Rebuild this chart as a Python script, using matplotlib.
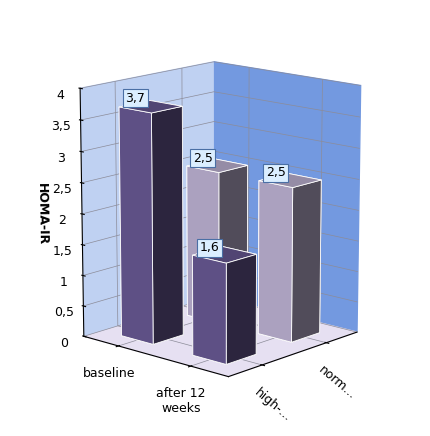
import numpy as np
import matplotlib
matplotlib.use("Agg")
from matplotlib import pyplot as plt
from matplotlib.ticker import FuncFormatter

# 数据
categories = ["baseline", "after 12\nweeks"]
series_names = ["high-...", "norm..."]
high_values = [3.7, 1.6]
normal_values = [2.5, 2.5]

fig = plt.figure(figsize=(4.3, 4.36), dpi=100)
ax = fig.add_axes([0.0, 0.0, 1.0, 1.0], projection="3d")

bar_w = 0.45
colors = ["#6a5a96", "#c2b6d8"]
for row, (vals, col) in enumerate(zip([high_values, normal_values], colors)):
    for i, v in enumerate(vals):
        ax.bar3d(i - bar_w / 2, row - bar_w / 2, 0, bar_w, bar_w, v,
                 color=col, edgecolor="#ffffff", linewidth=0.6, shade=True, zsort="max")
        ax.text(i, row - bar_w / 2, v + 0.18, f"{v:.1f}".replace(".", ","),
                ha="center", va="center", fontsize=9, zorder=100,
                bbox=dict(boxstyle="square,pad=0.2", fc="#dbeeff", ec="#4a6fa5", lw=0.8))

ax.set_xlim(-0.5, 1.5)
ax.set_ylim(-0.5, 1.5)
ax.set_zlim(0, 4)
ax.set_xticks([0, 1])
ax.set_xticklabels(categories, fontsize=9, ha="center")
ax.set_yticks([0, 1])
ax.set_yticklabels(series_names, fontsize=9, rotation=-40)
ax.set_zticks(np.arange(0, 4.01, 0.5))
ax.zaxis.set_major_formatter(FuncFormatter(lambda v, p: f"{v:g}".replace(".", ",")))
ax.tick_params(axis="z", labelsize=9)
ax.zaxis._axinfo["juggled"] = (1, 2, 0)
ax.set_zlabel("HOMA-IR", fontsize=9, fontweight="bold", labelpad=2)

ax.xaxis.set_pane_color((0.75, 0.82, 0.95, 1.0))
ax.yaxis.set_pane_color((0.45, 0.6, 0.88, 1.0))
ax.zaxis.set_pane_color((0.9, 0.88, 0.95, 1.0))
for a in (ax.xaxis, ax.yaxis, ax.zaxis):
    a._axinfo["grid"]["color"] = (0.55, 0.55, 0.6, 1)
    a._axinfo["grid"]["linewidth"] = 0.5
ax.view_init(elev=14, azim=-48)
ax.set_box_aspect((1, 1, 1.3), zoom=0.85)

fig.savefig("out.png", dpi=100, facecolor="white")
